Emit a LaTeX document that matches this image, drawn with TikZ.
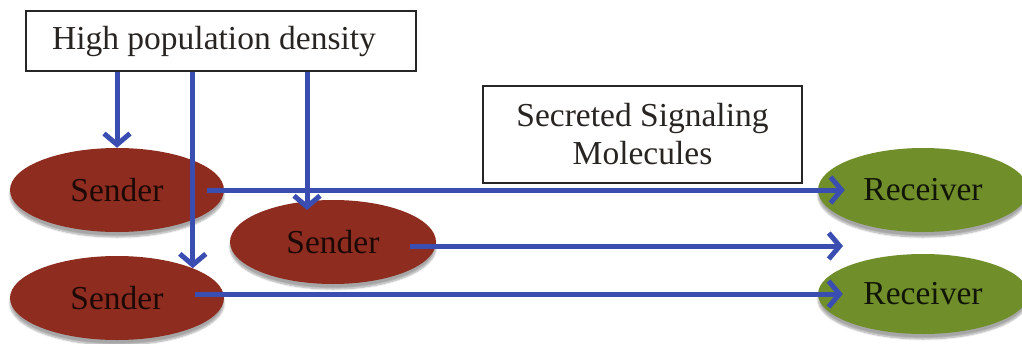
\documentclass[tikz,border=0pt]{standalone}
\usepackage{fontspec}
\setmainfont{Liberation Serif}
\usetikzlibrary{arrows.meta,shadows.blur,calc,shapes.geometric}
\definecolor{senderred}{RGB}{142,44,32}
\definecolor{receivergreen}{RGB}{112,142,42}
\definecolor{signalblue}{RGB}{58,78,178}
\definecolor{inktext}{RGB}{40,36,34}
\tikzset{
  labelbox/.style={draw=black!85, line width=2.6pt, fill=white, inner sep=0pt,
    font=\fontsize{33.5}{38}\selectfont, text=inktext, align=center},
  cell/.style={ellipse, inner sep=0pt, minimum height=84pt,
    font=\fontsize{33.5}{38}\selectfont,
    blur shadow={shadow xshift=0pt, shadow yshift=-5pt, shadow blur steps=8, shadow opacity=35}},
  sendercell/.style={cell, fill=senderred, text=black!80!senderred, minimum width=214pt},
  receivercell/.style={cell, fill=receivergreen, text=black!85!receivergreen, minimum width=210pt},
  signal/.style={draw=signalblue, line width=5pt,
    -{Straight Barb[length=11pt, width=26pt, line width=5pt]}},
}
\begin{document}
\begin{tikzpicture}[x=1pt, y=-1pt]
  \useasboundingbox (0,0) rectangle (1022,343);

  % cells
  \node[sendercell] (s1) at (117,190) {Sender};
  \node[sendercell, minimum width=206pt] (s2) at (333,242) {Sender};
  \node[sendercell] (s3) at (117,298) {Sender};
  \node[receivercell] (r1) at (923,190) {Receiver};
  \node[receivercell, minimum height=80pt] (r2) at (923,294) {Receiver};

  % labels
  \node[labelbox, minimum width=390pt, minimum height=60pt] (hpd) at (221,41)
    {High population density\hspace{14pt}};
  \node[labelbox, minimum width=319pt, minimum height=97pt] (ssm) at (642.5,134.5)
    {Secreted Signaling\\Molecules};

  % free ends
  \coordinate (d3) at (307,210);
  \coordinate (m2) at (843,246);

  % density signals
  \draw[signal] (hpd.south -| s1.north) -- (s1.north);
  \draw[signal] (hpd.south -| s3.north east) -- (s3.north east);
  \draw[signal] (hpd.south -| d3) -- (d3);

  % secreted molecules
  \draw[signal, shorten <=-17pt, shorten >=-27pt] (s1.east) -- (r1.west);
  \draw[signal, shorten <=-26pt] (s2.east |- m2) -- (m2);
  \draw[signal, shorten <=-29pt, shorten >=-25pt] (s3.east |- r2.west) -- (r2.west);
\end{tikzpicture}
\end{document}
